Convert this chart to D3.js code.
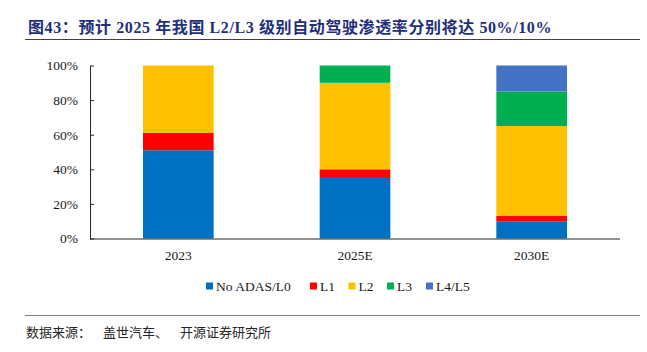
<!DOCTYPE html>
<html><head><meta charset="utf-8">
<script src="https://cdn.jsdelivr.net/npm/d3@7"></script>
<style>body{margin:0;background:#fff;}svg{display:block;}</style>
</head><body><svg id="c" width="647" height="352"></svg>
<script>
const categories = ["2023", "2025E", "2030E"];
const seriesNames = ["No ADAS/L0", "L1", "L2", "L3", "L4/L5"];
const seriesColors = ["#0070C0", "#FF0000", "#FFC000", "#00B050", "#4472C4"];
const noAdas = [51, 35, 10];
const l1 = [10, 5, 3];
const l2 = [39, 50, 52];
const l3 = [0, 10, 20];
const l45 = [0, 0, 15];
const yTicks = [0, 20, 40, 60, 80, 100];
const titleText = "图43：预计 2025 年我国 L2/L3 级别自动驾驶渗透率分别将达 50%/10%";
const sourceParts = ["数据来源：", "盖世汽车、", "开源证券研究所"];

const svg = d3.select("#c");
const serif = "'Liberation Serif','Times New Roman',serif";
const pLeft = 90, pRight = 620, pTop = 65.5, pBottom = 238.5;

const rows = categories.map((c, i) => ({cat: c, "No ADAS/L0": noAdas[i], "L1": l1[i], "L2": l2[i], "L3": l3[i], "L4/L5": l45[i]}));
const stack = d3.stack().keys(seriesNames)(rows);

const x = d3.scaleBand().domain(categories).range([pLeft, pRight]).paddingInner(0.6).paddingOuter(0.3);
const y = d3.scaleLinear().domain([0, 100]).range([pBottom, pTop]);
const color = d3.scaleOrdinal().domain(seriesNames).range(seriesColors);

// title
svg.append("text").attr("x", 28).attr("y", 32.5)
  .attr("font-family", "'Liberation Serif','Noto Sans CJK SC',serif")
  .attr("font-weight", "bold").attr("font-size", 16).attr("letter-spacing", 0.6).attr("fill", "#1F2F7A")
  .text(titleText);
svg.append("line").attr("x1", 25).attr("x2", 640).attr("y1", 39.5).attr("y2", 39.5)
  .attr("stroke", "#404040").attr("stroke-width", 1.2);

// bars
svg.append("g").selectAll("g").data(stack).join("g")
  .attr("fill", d => color(d.key))
  .selectAll("rect").data(d => d).join("rect")
  .attr("x", d => x(d.data.cat))
  .attr("width", x.bandwidth())
  .attr("y", d => y(d[1]))
  .attr("height", d => y(d[0]) - y(d[1]));

// y axis
const yAxis = svg.append("g").attr("transform", `translate(${pLeft},0)`)
  .call(d3.axisLeft(y).tickValues(yTicks).tickFormat(d => d + "%").tickSizeInner(-4).tickSizeOuter(0).tickPadding(12));
yAxis.select(".domain").attr("stroke", "#262626");
yAxis.selectAll(".tick line").attr("stroke", "#262626");
yAxis.selectAll("text").attr("font-family", serif).attr("font-size", 13.5).attr("fill", "#1a1a1a");

// x axis
const xAxis = svg.append("g").attr("transform", `translate(0,${pBottom})`)
  .call(d3.axisBottom(x).tickSize(0).tickPadding(12));
xAxis.select(".domain").attr("stroke", "#262626").attr("d", `M${pLeft},0.5H${pRight}`);
xAxis.selectAll("text").attr("font-family", serif).attr("font-size", 13.5).attr("fill", "#1a1a1a");

// legend
const legendX = [206, 310, 348.5, 387, 426];
const lg = svg.append("g").selectAll("g").data(seriesNames).join("g")
  .attr("transform", (d, i) => `translate(${legendX[i]},286)`);
lg.append("rect").attr("x", 0).attr("y", -3.5).attr("width", 7).attr("height", 7).attr("fill", d => color(d));
lg.append("text").attr("x", 10).attr("y", 5).attr("font-family", serif).attr("font-size", 13.5).attr("fill", "#1a1a1a").text(d => d);

// source
svg.append("line").attr("x1", 25).attr("x2", 640).attr("y1", 315.5).attr("y2", 315.5)
  .attr("stroke", "#808080").attr("stroke-width", 1.2);
const src = svg.append("text").attr("x", 26).attr("y", 337)
  .attr("font-family", "'Noto Sans CJK SC',sans-serif").attr("font-size", 13).attr("fill", "#262626");
src.selectAll("tspan").data(sourceParts).join("tspan")
  .attr("dx", (d, i) => i === 0 ? 0 : 12)
  .text(d => d);
</script></body></html>
